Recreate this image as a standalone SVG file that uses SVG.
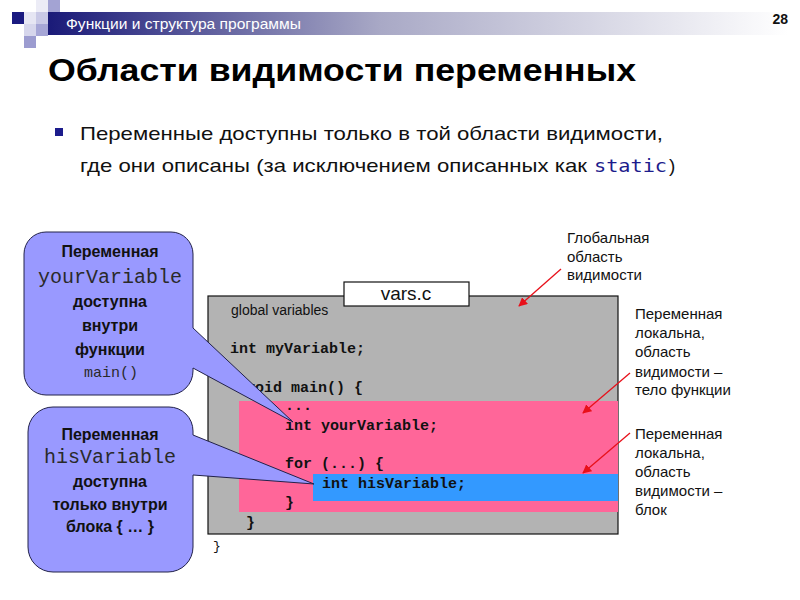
<svg xmlns="http://www.w3.org/2000/svg" width="800" height="600" viewBox="0 0 800 600">
<defs>
<linearGradient id="hdr" x1="0" y1="0" x2="1" y2="0">
<stop offset="0" stop-color="#1a1a78"/>
<stop offset="0.45" stop-color="#a9a9c6"/>
<stop offset="1" stop-color="#ffffff"/>
</linearGradient>
<marker id="ah" viewBox="0 0 10 10" refX="9" refY="5" markerWidth="9" markerHeight="9" markerUnits="userSpaceOnUse" orient="auto">
<path d="M0,0 L10,5 L0,10 Z" fill="#e8101a"/>
</marker>
<style>
.sans{font-family:"Liberation Sans",Arial,sans-serif}
.mono{font-family:"Liberation Mono","Courier New",monospace}
.code{font-family:"Liberation Mono","Courier New",monospace;font-weight:bold;font-size:15px;fill:#111}
.ann{font-family:"Liberation Sans",Arial,sans-serif;font-size:15px;fill:#111}
.cl{fill:#9999ff;stroke:#22224a;stroke-width:1}
.clt{font-family:"Liberation Sans",Arial,sans-serif;font-weight:bold;font-size:16px;fill:#111;text-anchor:middle}
.clm{font-family:"Liberation Mono","Courier New",monospace;fill:#2a2a2a;text-anchor:middle}
.arr{stroke:#e8101a;stroke-width:1.3;fill:none;marker-end:url(#ah)}
</style>
</defs>
<rect width="800" height="600" fill="#ffffff"/>

<g id="header">
<rect x="48" y="0" width="12" height="12" fill="#a3a3d3"/>
<rect x="36" y="0" width="12" height="12" fill="#ececf6"/>
<rect x="12" y="12" width="12" height="12" fill="#1a1a80"/>
<rect x="24" y="12" width="12" height="12" fill="#e6e6f3"/>
<rect x="36" y="12" width="12" height="12" fill="#c9c9e6"/>
<rect x="24" y="24" width="12" height="12" fill="#d6d6ec"/>
<rect x="36" y="24" width="12" height="12" fill="#a6a6d6"/>
<rect x="24" y="36" width="12" height="12" fill="#9c9cd0"/>
<rect x="48" y="12" width="740" height="23" fill="url(#hdr)"/>
<text class="sans" x="66" y="29" font-size="14" fill="#ffffff" textLength="235" lengthAdjust="spacingAndGlyphs">Функции  и структура программы</text>
<text class="sans" x="788" y="24" font-size="14" font-weight="bold" fill="#111" text-anchor="end">28</text>
</g>

<g id="title">
<text class="sans" x="48" y="81" font-size="31" font-weight="bold" fill="#000" textLength="588" lengthAdjust="spacingAndGlyphs">Области видимости переменных</text>
</g>

<g id="bullet">
<rect x="55" y="128" width="8" height="8" fill="#1c1c8c"/>
<text class="sans" x="80" y="140" font-size="19" fill="#111" textLength="583" lengthAdjust="spacingAndGlyphs">Переменные  доступны только в той области видимости,</text>
<text class="sans" x="80" y="172" font-size="19" fill="#111" textLength="507" lengthAdjust="spacingAndGlyphs">где они  описаны (за исключением  описанных как</text>
<text x="594" y="172" font-family="'DejaVu Sans Mono',monospace" font-size="18" fill="#1c1c8c" textLength="73" lengthAdjust="spacingAndGlyphs">static</text>
<text class="sans" x="669" y="172" font-size="19" fill="#111">)</text>
</g>

<g id="global-scope">
<rect x="208" y="296" width="410" height="238" fill="#b3b3b3" stroke="#111" stroke-width="1.2"/>
<text class="sans" x="231" y="315" font-size="14" fill="#111">global variables</text>
<text class="code" x="230" y="353">int myVariable;</text>
<text class="code" x="246" y="392">void main() {</text>
</g>

<g id="function-scope">
<rect x="239" y="401" width="379" height="111" fill="#ff6699"/>
<text class="code" x="285" y="410">...</text>
<text class="code" x="285" y="430">int yourVariable;</text>
<text class="code" x="285" y="468">for (...) {</text>
<text class="code" x="285" y="507">}</text>
</g>

<g id="block-scope">
<rect x="313" y="474" width="305" height="27" fill="#3399ff"/>
<text class="code" x="322" y="488">int hisVariable;</text>
</g>

<g id="closing">
<text class="code" x="246" y="527">}</text>
<text class="mono" x="213" y="550" font-size="13" fill="#111">}</text>
</g>

<g id="file-label">
<rect x="344" y="282" width="125" height="24" fill="#ffffff" stroke="#111" stroke-width="1.2"/>
<text class="sans" x="406" y="300" font-size="19" fill="#111" text-anchor="middle">vars.c</text>
</g>

<g id="callout-your">
<path class="cl" d="M46,232 H171 A22,22 0 0 1 193,254 V328 L293,422 L193,368 V371 A24,24 0 0 1 169,395 H46 A22,22 0 0 1 24,373 V254 A22,22 0 0 1 46,232 Z"/>
<text class="clt" x="110" y="257">Переменная</text>
<text class="clm" x="110" y="283" style="font-size:20px">yourVariable</text>
<text class="clt" x="110" y="307">доступна</text>
<text class="clt" x="110" y="331">внутри</text>
<text class="clt" x="110" y="355">функции</text>
<text class="clm" x="111" y="377" style="font-size:15px">main()</text>
</g>

<g id="callout-his">
<path class="cl" d="M53,407 H169 A24,24 0 0 1 193,431 V435 L314,484 L193,475 V547 A25,25 0 0 1 168,572 H53 A25,25 0 0 1 28,547 V432 A25,25 0 0 1 53,407 Z"/>
<text class="clt" x="110" y="440">Переменная</text>
<text class="clm" x="110" y="463" style="font-size:20px">hisVariable</text>
<text class="clt" x="110" y="487">доступна</text>
<text class="clt" x="110" y="510">только внутри</text>
<text class="clt" x="110" y="532">блока { … }</text>
</g>

<g id="note-global">
<text class="ann" x="567" y="243">Глобальная</text>
<text class="ann" x="567" y="262">область</text>
<text class="ann" x="567" y="280">видимости</text>
</g>

<g id="note-function">
<text class="ann" x="635" y="319">Переменная</text>
<text class="ann" x="635" y="338">локальна,</text>
<text class="ann" x="635" y="357">область</text>
<text class="ann" x="635" y="377">видимости –</text>
<text class="ann" x="635" y="395">тело функции</text>
</g>

<g id="note-block">
<text class="ann" x="635" y="439">Переменная</text>
<text class="ann" x="635" y="458">локальна,</text>
<text class="ann" x="635" y="477">область</text>
<text class="ann" x="635" y="496">видимости –</text>
<text class="ann" x="635" y="515">блок</text>
</g>

<g id="connectors">
<line class="arr" x1="561" y1="269" x2="519" y2="306"/>
<line class="arr" x1="630" y1="373" x2="583" y2="413"/>
<line class="arr" x1="630" y1="433" x2="583" y2="473"/>
</g>
</svg>
